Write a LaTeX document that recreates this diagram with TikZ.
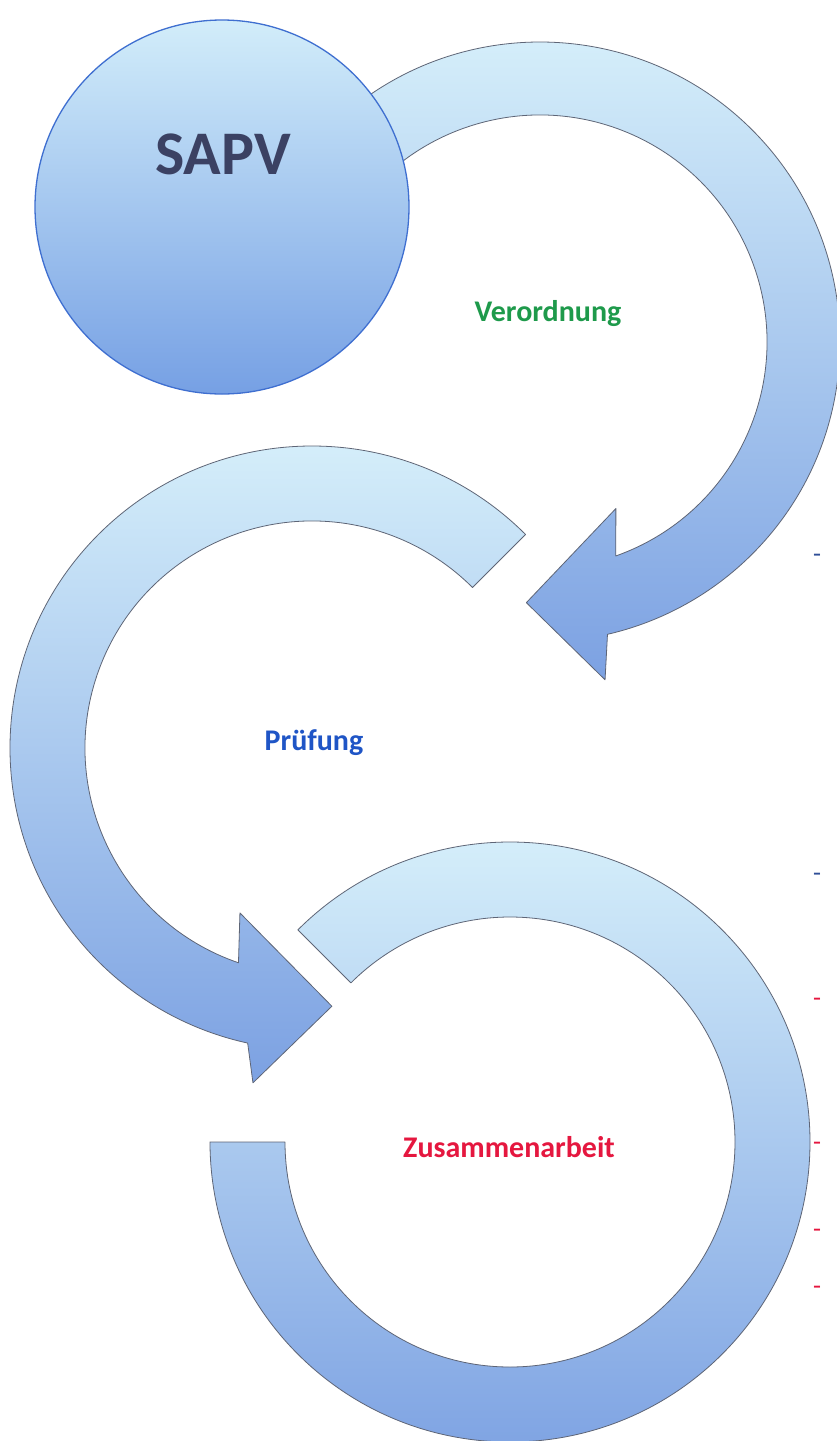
\documentclass[tikz,border=0pt]{standalone}
\usepackage{fontspec}
\setmainfont{Carlito}
\usetikzlibrary{calc}
\definecolor{bandlight}{HTML}{D8F1FB}
\definecolor{banddark}{HTML}{7CA1E2}
\definecolor{bandline}{HTML}{5E6576}
\definecolor{sapvlight}{HTML}{D2EDFA}
\definecolor{sapvdark}{HTML}{76A0E4}
\definecolor{sapvline}{HTML}{3F6FD0}
\definecolor{sapvtext}{HTML}{3B4163}
\definecolor{verogreen}{HTML}{1E9A4B}
\definecolor{pruefblue}{HTML}{1F55C6}
\definecolor{zusred}{HTML}{E5173F}
\definecolor{dashblue}{HTML}{2F4F97}

\begin{document}
\begin{tikzpicture}[x=1pt,y=1pt,line join=round,
  arrowband/.style={top color=bandlight,bottom color=banddark,draw=bandline,line width=0.8pt},
  stagetext/.style={font=\bfseries\fontsize{30}{36}\selectfont,inner sep=0pt,anchor=base}]
\useasboundingbox (0,0) rectangle (837,-1441);
\fill[white] (0,0) rectangle (837,-1441);

% centres of the three bands
\coordinate (c1) at (540,-342);
\coordinate (c2) at (312,-748);
\coordinate (c3) at (510,-1142);

% Verordnung: clockwise, tail hidden under the circle
\path[arrowband] ($(c1)+(135:300)$) arc[start angle=135,end angle=-77,radius=300]
  -- ($(c1)+(-79.1:344)$) -- ($(c1)+(-93:261)$) -- ($(c1)+(-65.5:183)$)
  -- ($(c1)+(-70.5:227)$) arc[start angle=-70.5,end angle=135,radius=227] -- cycle;

% Pruefung: counter-clockwise
\path[arrowband] ($(c2)+(45:302)$) arc[start angle=45,end angle=257.7,radius=302]
  -- ($(c2)+(260:340)$) -- ($(c2)+(274.4:259)$) -- ($(c2)+(246.4:180)$)
  -- ($(c2)+(251.1:227)$) arc[start angle=251.1,end angle=45,radius=227] -- cycle;

% Zusammenarbeit: open ring
\path[arrowband] ($(c3)+(135:300)$) arc[start angle=135,end angle=-180,radius=300]
  -- ($(c3)+(180:225)$) arc[start angle=-180,end angle=135,radius=225] -- cycle;

\node[circle,minimum size=374pt,inner sep=0pt,top color=sapvlight,bottom color=sapvdark,
  draw=sapvline,line width=1.3pt] (sapv) at (222,-207) {};
\node[font=\bfseries\fontsize{62}{72}\selectfont,text=sapvtext,inner sep=0pt,anchor=base]
  (sapvlabel) at (223,-174) {SAPV};

\node[stagetext,text=verogreen] (verordnung) at (548,-321) {Verordnung};
\node[stagetext,text=pruefblue] (pruefung) at (314,-750) {Prüfung};
\node[stagetext,text=zusred] (zusammen) at (509,-1157) {Zusammenarbeit};

% cut-off list marks at the right edge
\foreach \y/\c [count=\i] in {555/dashblue,874/dashblue,999/zusred,1143/zusred,1230/zusred,1287/zusred}
  \node[font=\fontsize{26}{30}\selectfont,inner sep=0pt,anchor=base,text=\c] (dash\i) at (817,-\y-7) {-};
\end{tikzpicture}
\end{document}
